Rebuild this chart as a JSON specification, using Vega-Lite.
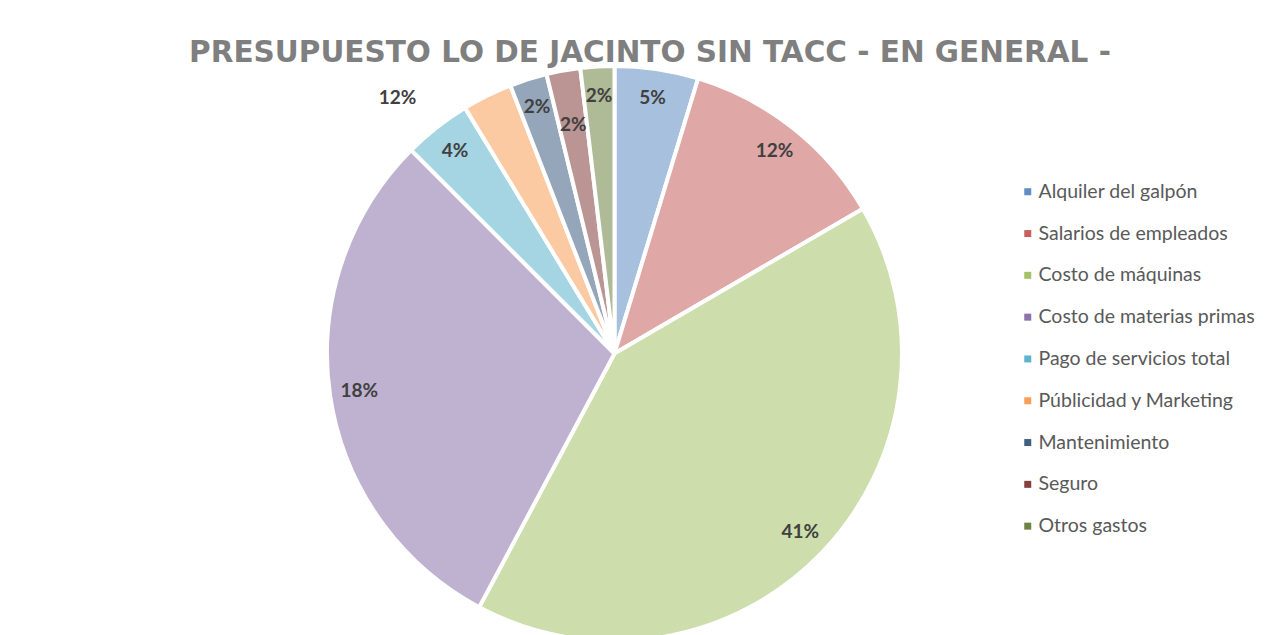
{
  "$schema": "https://vega.github.io/schema/vega-lite/v6.json",
  "autosize": {"type": "none"},
  "width": 575,
  "height": 563,
  "padding": {"left": 327, "top": 72, "right": 377, "bottom": 0},
  "background": "white",
  "title": {
    "text": "PRESUPUESTO LO DE JACINTO SIN TACC - EN GENERAL -",
    "font": "DejaVu Sans",
    "fontSize": 29.5,
    "fontWeight": "bold",
    "color": "#7f7f7f",
    "anchor": "middle",
    "dx": 35.5,
    "offset": -10
  },
  "data": {
    "values": [
      {"categoria": "Alquiler del galpón", "valor": 4.7, "etiqueta": "5%", "orden": 1},
      {"categoria": "Salarios de empleados", "valor": 11.9, "etiqueta": "12%", "orden": 2},
      {"categoria": "Costo de máquinas", "valor": 41.2, "etiqueta": "41%", "orden": 3},
      {"categoria": "Costo de materias primas", "valor": 29.7, "etiqueta": "18%", "orden": 4},
      {"categoria": "Pago de servicios total", "valor": 3.8, "etiqueta": "4%", "orden": 5},
      {"categoria": "Públicidad y Marketing", "valor": 2.8, "etiqueta": "12%", "orden": 6},
      {"categoria": "Mantenimiento", "valor": 2.1, "etiqueta": "2%", "orden": 7},
      {"categoria": "Seguro", "valor": 1.9, "etiqueta": "2%", "orden": 8},
      {"categoria": "Otros gastos", "valor": 1.9, "etiqueta": "2%", "orden": 9}
    ]
  },
  "encoding": {
    "theta": {"field": "valor", "type": "quantitative", "stack": true},
    "order": {"field": "orden", "type": "quantitative"}
  },
  "layer": [
    {
      "mark": {"type": "arc", "outerRadius": 287.5, "stroke": "white", "strokeWidth": 4, "fillOpacity": 0.5},
      "encoding": {
        "color": {
          "field": "categoria",
          "type": "nominal",
          "scale": {
            "domain": ["Alquiler del galpón", "Salarios de empleados", "Costo de máquinas", "Costo de materias primas", "Pago de servicios total", "Públicidad y Marketing", "Mantenimiento", "Seguro", "Otros gastos"],
            "range": ["#4f81bd", "#c0504d", "#9bbb59", "#8064a2", "#4bacc6", "#f79646", "#2c4d75", "#772c2a", "#5f7530"]
          },
          "legend": {
            "orient": "none",
            "legendX": 691,
            "legendY": 110,
            "title": null,
            "labelFont": "Lato",
            "labelFontSize": 19.5,
            "labelColor": "#595959",
            "labelLimit": 400,
            "symbolType": "square",
            "symbolSize": 49,
            "symbolStrokeWidth": 0,
            "symbolOpacity": 0.9,
            "rowPadding": 20.8,
            "labelOffset": 1,
            "padding": 0
          }
        }
      }
    },
    {
      "mark": {"type": "text", "radius": 258, "font": "Lato", "fontWeight": "bold", "fontSize": 19, "color": "#404040", "align": "center", "baseline": "middle"},
      "encoding": {
        "detail": {"field": "categoria", "type": "nominal"},
        "text": {
          "condition": {"test": "datum.categoria !== 'Seguro' && datum.categoria !== 'Públicidad y Marketing'", "field": "etiqueta"},
          "value": ""
        }
      }
    },
    {
      "mark": {"type": "text", "radius": 232, "font": "Lato", "fontWeight": "bold", "fontSize": 19, "color": "#404040", "align": "center", "baseline": "middle"},
      "encoding": {
        "detail": {"field": "categoria", "type": "nominal"},
        "text": {
          "condition": {"test": "datum.categoria === 'Seguro'", "field": "etiqueta"},
          "value": ""
        }
      }
    },
    {
      "mark": {"type": "text", "radius": 287, "dx": -71, "dy": 2, "font": "Lato", "fontWeight": "bold", "fontSize": 19, "color": "#404040", "align": "right", "baseline": "middle"},
      "encoding": {
        "detail": {"field": "categoria", "type": "nominal"},
        "text": {
          "condition": {"test": "datum.categoria === 'Públicidad y Marketing'", "field": "etiqueta"},
          "value": ""
        }
      }
    }
  ],
  "config": {
    "view": {"stroke": null}
  }
}
